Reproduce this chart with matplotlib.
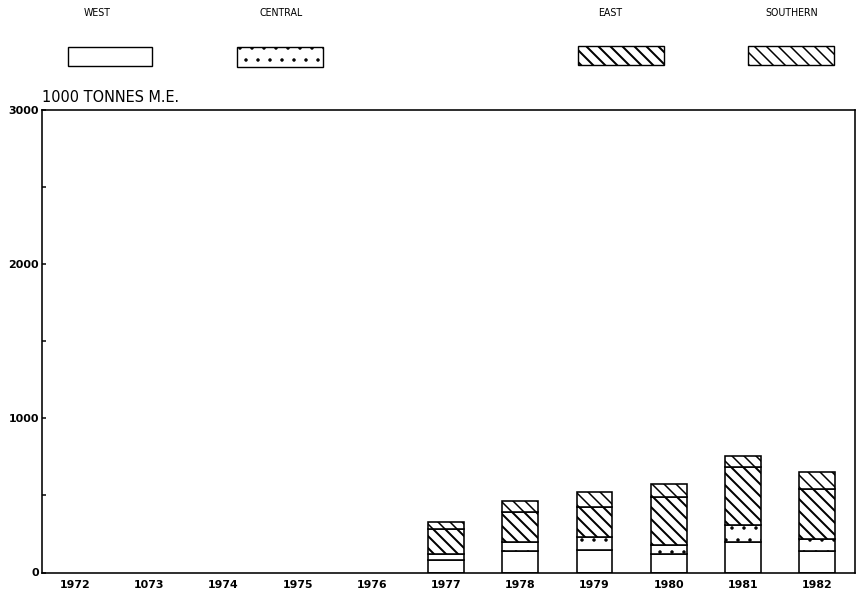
import matplotlib
matplotlib.use("Agg")
import matplotlib.pyplot as plt
from matplotlib.patches import Rectangle
import numpy as np

years = ["1972", "1073", "1974", "1975", "1976", "1977", "1978", "1979", "1980", "1981", "1982"]
west     = [0, 0, 0, 0, 0, 80, 138, 143, 123, 196, 138]
central  = [0, 0, 0, 0, 0, 42, 58, 86, 58, 109, 80]
east     = [0, 0, 0, 0, 0, 163, 195, 194, 307, 382, 324]
southern = [0, 0, 0, 0, 0, 42, 71, 97, 85, 71, 108]
series_names = ["WEST", "CENTRAL", "EAST", "SOUTHERN"]
yticks = [0, 1000, 2000, 3000]

DPI = 72
W, H = 865, 599
fig = plt.figure(figsize=(W / DPI, H / DPI), dpi=DPI)
plt.rcParams['hatch.color'] = 'black'
ax = fig.add_axes([42 / W, (H - 572.5) / H, (855 - 42) / W, (572.5 - 110) / H])

styles = {
    "WEST": dict(hatch=None, lw_h=1.0),
    "CENTRAL": dict(hatch='.', lw_h=1.0),
    "EAST": dict(hatch='\\\\', lw_h=2.0),
    "SOUTHERN": dict(hatch='\\\\', lw_h=1.5),
}

x = np.arange(len(years))
data = [west, central, east, southern]
bottom = np.zeros(len(years))
for name, vals in zip(series_names, data):
    vals = np.array(vals, dtype=float)
    mask = vals > 0
    st = styles[name]
    bars = ax.bar(x[mask], vals[mask], bottom=bottom[mask], width=0.48,
                  facecolor='white', edgecolor='black', linewidth=1.6,
                  hatch=st['hatch'])
    for b in bars:
        try:
            b.set_hatch_linewidth(st['lw_h'])
        except Exception:
            pass
    bottom = bottom + vals

ax.set_xlim(-0.445, 10.51)
ax.set_ylim(0, 3000)
ax.set_xticks(x)
ax.set_xticklabels(years, fontsize=11, fontweight='bold')
ax.set_yticks(yticks)
ax.set_yticklabels([str(v) for v in yticks], fontsize=11, fontweight='bold')
ax.set_yticks([500, 1500, 2500], minor=True)
ax.tick_params(axis='x', length=0, pad=7)
ax.tick_params(axis='y', which='both', direction='in', length=4, width=1.5, pad=3)
for s in ax.spines.values():
    s.set_linewidth(1.6)

fig.text(42 / W, (H - 97) / H, "1000 TONNES M.E.", fontsize=14.5, ha='left', va='center')

legend_boxes = {
    "WEST": (68, 152, 47, 66, 97),
    "CENTRAL": (237, 323, 47, 67, 281),
    "EAST": (578, 664, 46, 65, 610),
    "SOUTHERN": (748, 834, 46, 65, 792),
}
for name in series_names:
    x0, x1, y0, y1, tx = legend_boxes[name]
    st = styles[name]
    r = Rectangle((x0 / W, (H - y1) / H), (x1 - x0) / W, (y1 - y0) / H,
                  transform=fig.transFigure, facecolor='white', edgecolor='black',
                  linewidth=1.4, hatch=st['hatch'])
    try:
        r.set_hatch_linewidth(st['lw_h'])
    except Exception:
        pass
    fig.add_artist(r)
    fig.text(tx / W, (H - 13) / H, name, fontsize=9.5, ha='center', va='center')

fig.savefig("out.png", dpi=DPI)
